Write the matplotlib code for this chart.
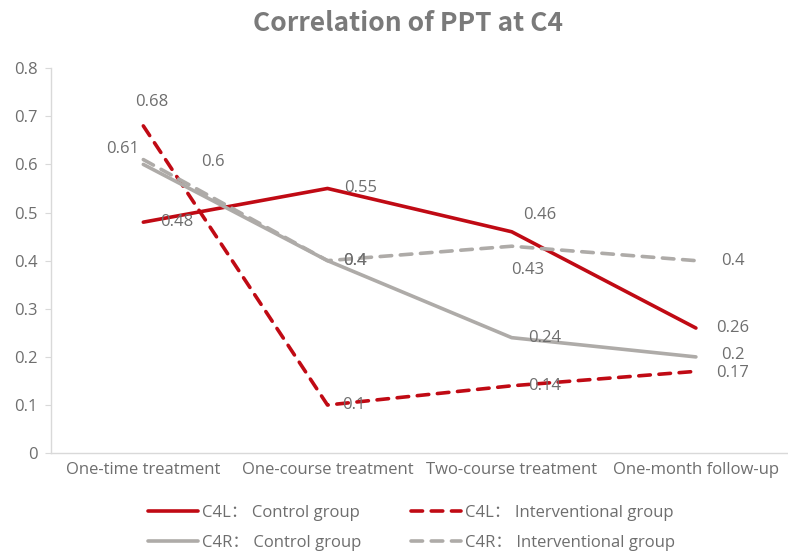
import matplotlib
matplotlib.use("Agg")
import matplotlib.pyplot as plt

plt.rcParams['font.family'] = ['Open Sans', 'Noto Sans CJK SC', 'DejaVu Sans']

categories = ["One-time treatment", "One-course treatment", "Two-course treatment", "One-month follow-up"]
c4l_control = [0.48, 0.55, 0.46, 0.26]
c4l_interv = [0.68, 0.10, 0.14, 0.17]
c4r_control = [0.60, 0.40, 0.24, 0.20]
c4r_interv = [0.61, 0.40, 0.43, 0.40]
labels = ["C4L\uff1a Control group", "C4L\uff1a Interventional group",
          "C4R\uff1a Control group", "C4R\uff1a Interventional group"]

RED = "#C00A14"
GRAY = "#AEABA8"
TXT = "#6E6E6E"
FS = 12

fig = plt.figure(figsize=(7.88, 5.54), dpi=100)
ax = fig.add_axes([0.065, 0.182, 0.935, 0.695])
x = list(range(len(categories)))

series = [
    (c4l_control, RED, '-', labels[0], [(33, 0), (33, 0), (28, 17), (37, 0)]),
    (c4l_interv, RED, '--', labels[1], [(8, 24), (26, 0), (33, 0), (37, -2)]),
    (c4r_control, GRAY, '-', labels[2], [(70, 2), (27, 0), (33, 0), (37, 2)]),
    (c4r_interv, GRAY, '--', labels[3], [(-21, 11), (27, 0), (16, -24), (37, 0)]),
]
handles = []
for vals, col, ls, lab, offs in series:
    if ls == '--':
        h, = ax.plot(x, vals, color=col, lw=2.6, ls=(0, (3.2, 2.4)),
                     dash_capstyle='round', solid_joinstyle='round', label=lab, zorder=3)
    else:
        h, = ax.plot(x, vals, color=col, lw=2.6, solid_capstyle='round',
                     solid_joinstyle='round', label=lab, zorder=3)
    handles.append(h)
    for xi, v, (dx, dy) in zip(x, vals, offs):
        ax.annotate(f"{v:g}", (xi, v), xytext=(dx * 0.72, dy * 0.72), textcoords='offset points',
                    ha='center', va='center', fontsize=FS, color=TXT, zorder=4)

ax.set_xlim(-0.5, 3.5)
ax.set_ylim(0, 0.8)
ax.set_yticks([i / 10 for i in range(9)])
ax.set_yticklabels(["0"] + [f"0.{i}" for i in range(1, 9)])
ax.set_xticks(x)
ax.set_xticklabels(categories)
ax.tick_params(axis='y', colors="#D9D9D9", labelcolor=TXT, labelsize=FS, length=4, direction='out', pad=6)
ax.tick_params(axis='x', length=0, labelcolor=TXT, labelsize=FS, pad=6)
for s in ['top', 'right']:
    ax.spines[s].set_visible(False)
for s in ['left', 'bottom']:
    ax.spines[s].set_color("#D9D9D9")
    ax.spines[s].set_linewidth(1)

fig.text(0.518, 0.958, "Correlation of PPT at C4", ha='center', va='center',
         fontsize=19, fontweight='bold', color="#7A7A7A", family=['Noto Sans CJK SC', 'DejaVu Sans'])

order = [0, 2, 1, 3]
leg = fig.legend([handles[i] for i in order], [labels[i] for i in order], loc='center',
                 bbox_to_anchor=(0.522, 0.047), ncol=2,
                 frameon=False, fontsize=FS, handlelength=3.0, columnspacing=3.0,
                 labelspacing=0.8, handletextpad=0.25)
for t in leg.get_texts():
    t.set_color(TXT)

fig.savefig("out.png", dpi=100)
